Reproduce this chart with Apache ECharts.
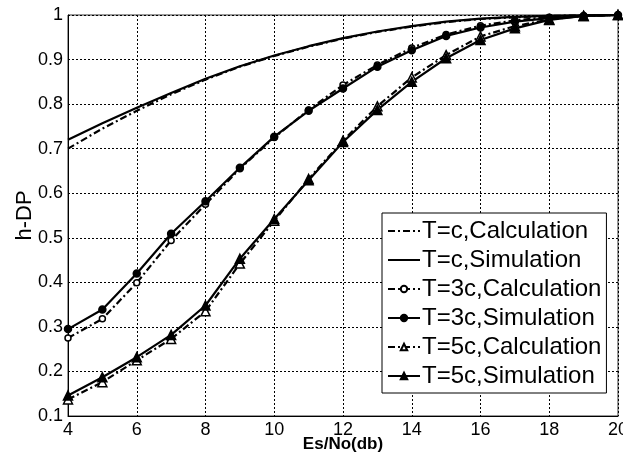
<!DOCTYPE html>
<html>
<head>
<meta charset="utf-8">
<title>h-DP vs Es/No</title>
<script src="https://cdn.jsdelivr.net/npm/echarts@6/dist/echarts.min.js"></script>
<style>
  html, body { margin: 0; padding: 0; background: #fff; }
  #chart { width: 623px; height: 460px; }
</style>
</head>
<body>
<div id="chart"></div>
<script>
// Es/No (db)
var esNo = [4, 5, 6, 7, 8, 9, 10, 11, 12, 13, 14, 15, 16, 17, 18, 19, 20];

// h-DP values
var tcCalc = [0.700, 0.745, 0.785, 0.822, 0.855, 0.884, 0.908, 0.929, 0.947, 0.962, 0.974, 0.984, 0.991, 0.995, 0.998, 0.999, 1.000];
var tcSim  = [0.720, 0.757, 0.792, 0.825, 0.857, 0.885, 0.909, 0.930, 0.948, 0.963, 0.975, 0.985, 0.992, 0.996, 0.998, 0.999, 1.000];
var t3Calc = [0.275, 0.318, 0.399, 0.494, 0.575, 0.655, 0.725, 0.787, 0.843, 0.888, 0.926, 0.956, 0.976, 0.988, 0.995, 0.998, 1.000];
var t3Sim  = [0.295, 0.339, 0.420, 0.509, 0.582, 0.657, 0.727, 0.785, 0.835, 0.884, 0.921, 0.953, 0.972, 0.985, 0.993, 0.998, 1.000];
var t5Calc = [0.137, 0.176, 0.225, 0.273, 0.335, 0.442, 0.538, 0.632, 0.718, 0.795, 0.860, 0.910, 0.952, 0.975, 0.990, 0.998, 1.000];
var t5Sim  = [0.146, 0.187, 0.232, 0.282, 0.348, 0.453, 0.542, 0.629, 0.715, 0.787, 0.850, 0.903, 0.944, 0.970, 0.989, 0.998, 1.000];

var names = ['T=c,Calculation', 'T=c,Simulation', 'T=3c,Calculation', 'T=3c,Simulation', 'T=5c,Calculation', 'T=5c,Simulation'];

var FONT = 'Liberation Sans, Arial, sans-serif';
var DASHDOT = [7, 3, 2, 3];

var pair = function(ys) {
    return esNo.map(function(x, i) { return [x, ys[i]]; });
};

var makeSeries = function(name, ys, dashed, symbol, size, filled) {
    return {
        name: name,
        type: 'line',
        data: pair(ys),
        symbol: symbol,
        symbolSize: size,
        lineStyle: { color: '#000', width: 2.2, type: dashed ? DASHDOT : 'solid' },
        itemStyle: { color: filled ? '#000' : '#fff', borderColor: '#000', borderWidth: 1.5 },
        animation: false
    };
};

// T=c rows get a plain line in the legend (no marker)
var legendData = names.map(function(n, i) {
    return i < 2 ? { name: n, itemStyle: { opacity: 0 } } : { name: n };
});

var chart = echarts.init(document.getElementById('chart'));

chart.setOption({
    backgroundColor: '#fff',
    grid: {
        left: 68, top: 15, right: 5, bottom: 44,
        outerBoundsMode: 'none',
        show: true, borderColor: '#333', borderWidth: 1
    },
    xAxis: {
        type: 'value', min: 4, max: 20, interval: 2,
        name: 'Es/No(db)', nameLocation: 'middle', nameGap: 20,
        nameMoveOverlap: false,
        nameTextStyle: { fontFamily: FONT, fontSize: 17, fontWeight: 'bold', color: '#000' },
        axisLine: { lineStyle: { color: '#000' } },
        axisTick: { show: false },
        axisLabel: { fontFamily: FONT, fontSize: 18, color: '#000', margin: 5 },
        splitLine: { lineStyle: { color: '#000', type: [2, 2], width: 1 } }
    },
    yAxis: {
        type: 'value', min: 0.1, max: 1, interval: 0.1,
        name: 'h-DP', nameLocation: 'middle', nameGap: 32,
        nameMoveOverlap: false,
        nameTextStyle: { fontFamily: FONT, fontSize: 22, color: '#000' },
        axisLine: { lineStyle: { color: '#000' } },
        axisTick: { show: false },
        axisLabel: {
            fontFamily: FONT, fontSize: 18, color: '#000', margin: 5,
            formatter: function(v) { return String(+v.toFixed(1)); }
        },
        splitLine: { lineStyle: { color: '#000', type: [2, 2], width: 1 } }
    },
    legend: {
        orient: 'vertical',
        left: 382, top: 213,
        padding: [6, 5, 5, 5],
        itemGap: 5,
        itemWidth: 32, itemHeight: 8,
        backgroundColor: '#fff',
        borderColor: '#000', borderWidth: 1, borderRadius: 0,
        textStyle: { fontFamily: FONT, fontSize: 24, color: '#000', padding: [0, 0, 0, -3] },
        data: legendData
    },
    series: [
        makeSeries(names[0], tcCalc, true, 'none', 0, false),
        makeSeries(names[1], tcSim, false, 'none', 0, true),
        makeSeries(names[2], t3Calc, true, 'circle', 6, false),
        makeSeries(names[3], t3Sim, false, 'circle', 7, true),
        makeSeries(names[4], t5Calc, true, 'triangle', 9, false),
        makeSeries(names[5], t5Sim, false, 'triangle', 9, true)
    ]
});
</script>
</body>
</html>
